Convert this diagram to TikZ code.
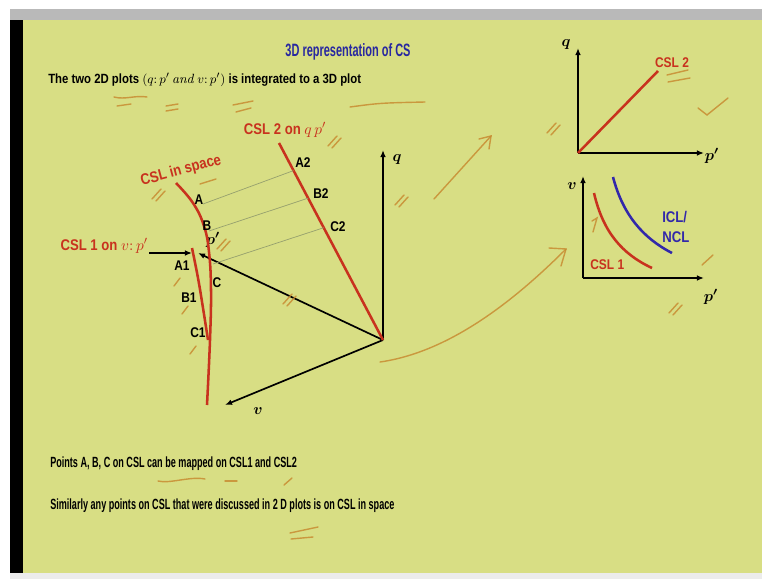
\documentclass[tikz,border=0pt]{standalone}
\usepackage{fontspec}
\setmainfont{Liberation Sans}[FakeStretch=0.615]
\newfontfamily\labelfont{Liberation Sans}[FakeStretch=0.85]
\newfontfamily\lmfont{Latin Modern Roman}
\usetikzlibrary{arrows.meta,calc}

\definecolor{slidebg}{RGB}{216,222,132}
\definecolor{cslred}{RGB}{200,50,30}
\definecolor{titleblue}{RGB}{40,40,160}
\definecolor{iclblue}{RGB}{50,40,170}
\definecolor{inkorange}{RGB}{200,140,50}
\definecolor{projgray}{RGB}{150,160,110}

\tikzset{
  txt/.style={font=\bfseries\fontsize{10.5}{12}\selectfont, inner sep=0pt},
  lbl/.style={font=\labelfont\bfseries\fontsize{10}{12}\selectfont, inner sep=0pt},
  redtxt/.style={font=\labelfont\bfseries\fontsize{11}{13}\selectfont, inner sep=0pt, text=cslred},
  axlab/.style={font=\fontsize{11}{12}\selectfont\boldmath, inner sep=0pt},
  axis/.style={line width=1.2pt, -{Latex[length=5pt,width=4pt]}},
  csl/.style={draw=cslred, line width=1.8pt},
  icl/.style={draw=iclblue, line width=1.8pt},
  proj/.style={draw=projgray, line width=0.5pt},
  ink/.style={draw=inkorange, line width=1pt, line cap=round, opacity=0.85},
}

\begin{document}
\begin{tikzpicture}[x=0.025cm, y=-0.025cm]
    % slide frame
    \useasboundingbox (0,0) rectangle (762,579);
    \fill[white] (0,0) rectangle (762,579);
    \fill[gray!55] (10,9) rectangle (762,20);
    \fill[black] (10,20) rectangle (23,573);
    \fill[slidebg] (23,20) rectangle (762,573);
    \fill[gray!15] (10,573) rectangle (762,579);

    % title and text lines
    \node (title) [txt, text=titleblue, font=\bfseries\fontsize{12.7}{14}\selectfont] at (348,52) {3D representation of CS};
    \node (intro) [lbl, font=\labelfont\bfseries\fontsize{9.5}{11}\selectfont, anchor=west] at (48,80) {The two 2D plots $(q{:}\,p'\,${\lmfont\mdseries\itshape and}$\; v{:}\,p')$ is integrated to a 3D plot};
    \node (map) [txt, anchor=west] at (50,464) {Points A, B, C on CSL can be mapped on CSL1 and CSL2};
    \node (simil) [txt, anchor=west] at (50,506) {Similarly any points on CSL that were discussed in 2 D plots is on CSL in space};

    % 3D axes
    \coordinate (O) at (383,340);
    \coordinate (qend) at (383,150);
    \coordinate (vend) at (225,405);
    \coordinate (pend) at (198,253);
    \draw[axis] (O) -- (qend);
    \draw[axis] (O) -- (vend);
    \draw[axis] (O) -- (pend);
    \node (qlab) [axlab] at (397,160) {$q$};
    \node (vlab) [axlab] at (258,411) {$v$};
    \node (plab) [axlab] at (213,240) {$p'$};

    % CSL 2 on q p'
    \coordinate (c2top) at (279,143);
    \draw[csl] (c2top) -- (O);
    \node (c2lab) [redtxt] at (285,130) {CSL 2 on $q\,p'$};
    \coordinate (A2) at ($(c2top)!0.14!(O)$);
    \coordinate (B2) at ($(c2top)!0.28!(O)$);
    \coordinate (C2) at ($(c2top)!0.43!(O)$);
    \node (A2lab) [lbl] at (303,163) {A2};
    \node (B2lab) [lbl] at (321,194) {B2};
    \node (C2lab) [lbl] at (338,227) {C2};

    % CSL in space
    \draw[csl] plot[smooth, tension=0.7] coordinates {(176,183) (193,203) (204,226) (209,252) (211,290) (210,340) (207,405)};
    \node (spacelab) [redtxt, rotate=15] at (181,171) {CSL in space};
    \coordinate (pA) at (203,204);
    \coordinate (pB) at (209,231);
    \coordinate (pC) at (213,264);
    \node (Alab) [lbl] at (199,200) {A};
    \node (Blab) [lbl] at (207,226) {B};
    \node (Clab) [lbl] at (217,283) {C};
    \draw[proj] (pA) -- (A2);
    \draw[proj] (pB) -- (B2);
    \draw[proj] (pC) -- (C2);

    % CSL 1 on v:p'
    \draw[csl] plot[smooth, tension=0.7] coordinates {(192,248) (198,278) (203,308) (208,340)};
    \node (c1lab) [redtxt, anchor=east] at (148,246) {CSL 1 on $v{:}\,p'$};
    \coordinate (c1from) at (149,253);
    \coordinate (c1to) at (192,253);
    \draw[axis] (c1from) -- (c1to);
    \node (A1lab) [lbl] at (182,266) {A1};
    \node (B1lab) [lbl] at (189,298) {B1};
    \node (C1lab) [lbl] at (198,333) {C1};

    % q : p' plot
    \coordinate (O1) at (578,153);
    \coordinate (q1end) at (578,48);
    \coordinate (p1end) at (704,153);
    \draw[axis] (O1) -- (q1end);
    \draw[axis] (O1) -- (p1end);
    \node (q1lab) [axlab] at (566,45) {$q$};
    \node (p1lab) [axlab] at (712,156) {$p'$};
    \coordinate (c2end) at (658,71);
    \draw[csl] (O1) -- (c2end);
    \node (csl2lab) [redtxt, font=\labelfont\bfseries\fontsize{10}{12}\selectfont] at (672,63) {CSL 2};

    % v : p' plot
    \coordinate (O2) at (583,278);
    \coordinate (v2end) at (583,176);
    \coordinate (p2end) at (704,278);
    \draw[axis] (O2) -- (v2end);
    \draw[axis] (O2) -- (p2end);
    \node (v2lab) [axlab] at (572,186) {$v$};
    \node (p2lab) [axlab] at (711,297) {$p'$};
    \coordinate (c1a) at (594,193);
    \coordinate (c1b) at (652,268);
    \draw[csl] (c1a) .. controls (603,232) and (622,254) .. (c1b);
    \node (csl1lab) [redtxt, font=\labelfont\bfseries\fontsize{10}{12}\selectfont, anchor=west] at (590,265) {CSL 1};
    \coordinate (ica) at (613,177);
    \coordinate (icb) at (672,253);
    \draw[icl] (ica) .. controls (623,215) and (643,238) .. (icb);
    \node (icllab) [lbl, text=iclblue, font=\labelfont\bfseries\fontsize{11}{14}\selectfont, anchor=west, align=left] at (662,227) {ICL/\\NCL};

    % handwritten marks
    \draw[ink] (380,362) .. controls (450,352) and (515,300) .. (566,249);
    \draw[ink] (549,248) -- (566,249) -- (561,266);
    \draw[ink] (434,199) -- (491,136);
    \draw[ink] (479,139) -- (491,136) -- (489,149);
    \draw[ink] (350,107) .. controls (380,103) .. (425,102);
    \draw[ink] (114,97) .. controls (125,100) and (135,95) .. (147,97);
    \draw[ink] (117,106) -- (131,104);
    \draw[ink] (166,106) -- (178,104);
    \draw[ink] (166,111) -- (178,109);
    \draw[ink] (233,105) -- (253,101);
    \draw[ink] (236,112) -- (251,108);
    \draw[ink] (698,108) -- (707,115) -- (728,98);
    \draw[ink] (667,75) -- (688,70);
    \draw[ink] (668,82) -- (690,78);
    \draw[ink] (592,221) -- (597,218) -- (593,232);
    \draw[ink] (702,265) -- (713,255);
    \draw[ink] (200,184) -- (216,179);
    \draw[ink] (158,481) .. controls (170,484) and (190,476) .. (205,479);
    \draw[ink] (225,481) -- (237,481);
    \draw[ink] (284,485) -- (292,478);
    \draw[ink] (290,533) -- (318,527);
    \draw[ink] (291,539) -- (313,537);
    \foreach \x/\y in {157/194, 222/244, 400/200, 333/141, 552/128, 674/308, 288/299}
        \draw[ink] (\x-5,\y+5) -- (\x+4,\y-5) (\x-1,\y+7) -- (\x+8,\y-3);
    \foreach \x/\y in {177/282, 185/310, 193/350}
        \draw[ink] (\x-3,\y+4) -- (\x+3,\y-4);
\end{tikzpicture}
\end{document}
